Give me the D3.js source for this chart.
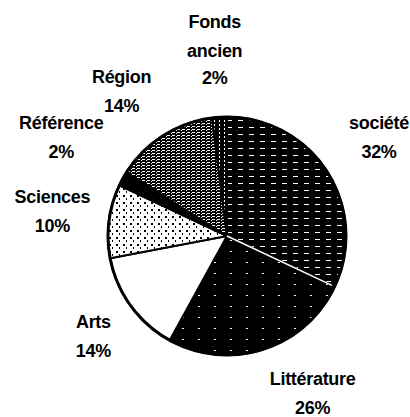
<!DOCTYPE html>
<html>
<head>
	<title>Répartition des fonds</title>
	<script src="https://d3js.org/d3.v7.min.js"></script>
	<style type="text/css">
		body { margin:0; background:#fff; }
		text { font-family:"Liberation Sans", Arial, sans-serif; font-weight:bold; font-size:18px; fill:#000; letter-spacing:-0.3px; }
		pattern rect { shape-rendering:crispEdges; }
	</style>
</head>
<body>
	<script type="text/javascript">

		// data, clockwise from 12 o'clock
		var categories = ["société", "Littérature", "Arts", "Sciences", "Référence", "Région", "Fonds ancien"];
		var values = [32, 26, 14, 10, 2, 14, 2];
		var labelLines = [["société"], ["Littérature"], ["Arts"], ["Sciences"], ["Référence"], ["Région"], ["Fonds", "ancien"]];

		var w = 410, h = 417;
		var cx = 227, cy = 236, r = 119;

		// fill per slice (pattern ids), and small label nudges like the original
		var fills = ["url(#pSociete)", "url(#pLitt)", "#fff", "url(#pSci)", "#000", "url(#pRegion)", "url(#pFonds)"];
		var nudge = [[0, -2], [30, -14], [12, -5], [4, -2], [-8, -12], [-9, 7], [-1, -5]];

		var svg = d3.select("body").append("svg")
			.attr("width", w)
			.attr("height", h);

		var defs = svg.append("defs");

		// société: almost black with thin light horizontal streaks
		var p = defs.append("pattern").attr("id", "pSociete").attr("patternUnits", "userSpaceOnUse")
			.attr("width", 11).attr("height", 7);
		p.append("rect").attr("width", 11).attr("height", 7).attr("fill", "#000");
		p.append("rect").attr("x", 0).attr("y", 3).attr("width", 5).attr("height", 1).attr("fill", "#fff");

		// Littérature: black with sparse specks
		p = defs.append("pattern").attr("id", "pLitt").attr("patternUnits", "userSpaceOnUse")
			.attr("width", 16).attr("height", 11);
		p.append("rect").attr("width", 16).attr("height", 11).attr("fill", "#000");
		p.append("rect").attr("x", 3).attr("y", 4).attr("width", 2).attr("height", 1).attr("fill", "#fff");

		// Sciences: white with dots
		p = defs.append("pattern").attr("id", "pSci").attr("patternUnits", "userSpaceOnUse")
			.attr("width", 7).attr("height", 7);
		p.append("rect").attr("width", 7).attr("height", 7).attr("fill", "#fff");
		p.append("rect").attr("x", 1).attr("y", 1).attr("width", 2).attr("height", 2).attr("fill", "#000");
		p.append("rect").attr("x", 4).attr("y", 4).attr("width", 1).attr("height", 2).attr("fill", "#000");

		// Région: black with white dashes, a mid grey overall
		p = defs.append("pattern").attr("id", "pRegion").attr("patternUnits", "userSpaceOnUse")
			.attr("width", 5).attr("height", 3);
		p.append("rect").attr("width", 5).attr("height", 3).attr("fill", "#000");
		p.append("rect").attr("x", 0).attr("y", 1).attr("width", 3).attr("height", 1).attr("fill", "#fff");
		p.append("rect").attr("x", 4).attr("y", 2).attr("width", 1).attr("height", 1).attr("fill", "#fff");

		// Fonds ancien: black with vertical dotted lines
		p = defs.append("pattern").attr("id", "pFonds").attr("patternUnits", "userSpaceOnUse")
			.attr("width", 5).attr("height", 4);
		p.append("rect").attr("width", 5).attr("height", 4).attr("fill", "#000");
		p.append("rect").attr("x", 2).attr("y", 0).attr("width", 1).attr("height", 2).attr("fill", "#fff");

		var pie = d3.pie().sort(null).value(function(d){ return d; });
		var arcs = pie(values);

		var arc = d3.arc().innerRadius(0).outerRadius(r);
		var labelArc = d3.arc().innerRadius(180).outerRadius(180);

		var g = svg.append("g").attr("transform", "translate(" + cx + "," + cy + ")");

		// slices
		g.selectAll("path.slice")
			.data(arcs)
			.enter()
			.append("path")
				.attr("class", "slice")
				.attr("d", arc)
				.attr("fill", function(d, i){ return fills[i]; })
				.attr("stroke", "#000")
				.attr("stroke-width", 2)
				.attr("stroke-linejoin", "round");

		// light seam between société and Littérature, as on the print
		var a = arcs[0].endAngle;
		g.append("line")
			.attr("x1", 0).attr("y1", 0)
			.attr("x2", Math.sin(a) * (r - 3)).attr("y2", -Math.cos(a) * (r - 3))
			.attr("stroke", "#fff")
			.attr("stroke-width", 1.5);

		// outer ring
		g.append("circle")
			.attr("r", r)
			.attr("fill", "none")
			.attr("stroke", "#000")
			.attr("stroke-width", 3);

		// labels: name lines then percentage
		var labels = g.selectAll("text.lbl")
			.data(arcs)
			.enter()
			.append("text")
				.attr("class", "lbl")
				.attr("text-anchor", "middle")
				.attr("transform", function(d, i){
					var c = labelArc.centroid(d);
					var n = labelLines[i].length + 1;
					var lineH = 29;
					return "translate(" + (c[0] + nudge[i][0]) + "," + (c[1] + nudge[i][1] - (n - 1) * lineH / 2 + 6) + ")";
				});

		labels.each(function(d, i){
			var t = d3.select(this);
			var lines = labelLines[i].concat([values[i] + "%"]);
			lines.forEach(function(s, k){
				t.append("tspan")
					.attr("x", 0)
					.attr("dy", k === 0 ? 0 : (k === lines.length - 1 && lines.length > 2 ? 27 : 29))
					.text(s);
			});
		});

	</script>
</body>
</html>
